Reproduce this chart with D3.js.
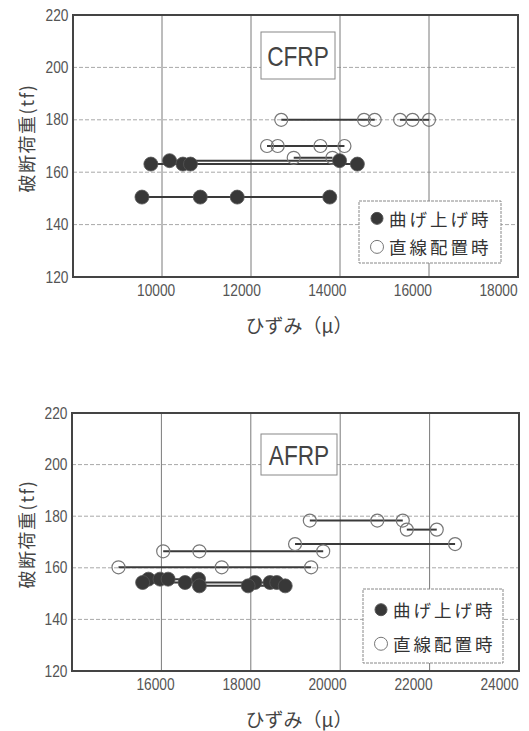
<!DOCTYPE html>
<html>
<head>
<meta charset="utf-8">
<script src="https://cdn.jsdelivr.net/npm/d3@7"></script>
<style>
  html, body { margin: 0; padding: 0; background: #fff; }
  svg { display: block; }
</style>
</head>
<body>
<div id="chart"></div>
<script>
/* =========================
   Data
========================= */
// load in tf, strains in micro-strain; each group is joined by a line
const cfrpBent = [
    { load: 150.5, strains: [9550, 10860, 11690, 13770] },
    { load: 163.1, strains: [9750, 10470, 10640, 14390] },
    { load: 164.4, strains: [10170, 13990] }
];
const cfrpStraight = [
    { load: 180, strains: [12680, 14540, 14780] },
    { load: 180, strains: [15350, 15630, 16000] },
    { load: 170, strains: [12360, 12600, 13560, 14100] },
    { load: 165.5, strains: [12960, 13830] }
];
const afrpBent = [
    { load: 155.6, strains: [15710, 15970, 16150, 16830] },
    { load: 154.3, strains: [15580, 16530, 18090, 18430, 18580] },
    { load: 153.0, strains: [16850, 17940, 18770] }
];
const afrpStraight = [
    { load: 178.3, strains: [19320, 20830, 21400] },
    { load: 174.8, strains: [21490, 22160] },
    { load: 169.2, strains: [18990, 22570] },
    { load: 166.4, strains: [16040, 16850, 19620] },
    { load: 160.2, strains: [15040, 17350, 19350] }
];

const yTicks = [120, 140, 160, 180, 200, 220];
const cfrpXTicks = [10000, 12000, 14000, 16000, 18000];
const afrpXTicks = [16000, 18000, 20000, 22000, 24000];

const legendLabels = ["曲げ上げ時", "直線配置時"];
const xTitle = "ひずみ（μ）";
const yTitle = "破断荷重(tf)";

/* =========================
   Setup
========================= */
const W = 529, H = 731;
const numFont = "'Liberation Sans Narrow', 'Arial Narrow', 'Liberation Sans', sans-serif";
const cjkFont = "'Noto Sans CJK JP', 'Noto Sans', sans-serif";

const svg = d3.select("#chart")
    .append("svg")
    .attr("width", W)
    .attr("height", H);

function drawPanel(opt) {
    const { top, bottom, left, right, xDomain, xTicks, title, titleBox, legendBox, bent, straight } = opt;

    const x = d3.scaleLinear().domain(xDomain).range([left, right]);
    // tick labels sit a little left of the gridlines in the scan
    const xLab = d3.scaleLinear().domain(xDomain).range([left - 3, right - 20]);
    const y = d3.scaleLinear().domain([120, 220]).range([bottom, top]);

    const g = svg.append("g");

    // horizontal grid
    g.append("g")
        .selectAll("line")
        .data(yTicks.filter(d => d > 120 && d < 220))
        .join("line")
        .attr("x1", left).attr("x2", right)
        .attr("y1", d => y(d)).attr("y2", d => y(d))
        .attr("stroke", "#a8a8a8")
        .attr("stroke-width", 1)
        .attr("stroke-dasharray", "4,2");

    // vertical grid
    g.append("g")
        .selectAll("line")
        .data(xTicks.filter(d => d < xDomain[1]))
        .join("line")
        .attr("x1", d => x(d)).attr("x2", d => x(d))
        .attr("y1", top).attr("y2", bottom)
        .attr("stroke", "#7a7a7a")
        .attr("stroke-width", 1);

    // frame
    g.append("rect")
        .attr("x", left).attr("y", top)
        .attr("width", right - left).attr("height", bottom - top)
        .attr("fill", "none")
        .attr("stroke", "#444")
        .attr("stroke-width", 2);

    // y axis labels
    const yAxis = g.append("g")
        .attr("transform", `translate(${left - 2},0)`)
        .call(d3.axisLeft(y).tickValues(yTicks).tickSize(0).tickPadding(3));
    yAxis.select(".domain").remove();
    yAxis.selectAll("text")
        .attr("font-family", numFont)
        .attr("font-size", 16)
        .attr("fill", "#555")
        .attr("transform", "scale(0.86,1)");

    // x axis labels
    const xAxis = g.append("g")
        .attr("transform", `translate(0,${bottom + 4})`)
        .call(d3.axisBottom(xLab).tickValues(xTicks).tickSize(0).tickPadding(4).tickFormat(d3.format("d")));
    xAxis.select(".domain").remove();
    xAxis.selectAll("text")
        .attr("font-family", numFont)
        .attr("font-size", 16)
        .attr("fill", "#555")
        .attr("transform", "scale(0.86,1)");

    // axis titles
    g.append("text")
        .attr("x", 299)
        .attr("y", bottom + 47)
        .attr("text-anchor", "middle")
        .attr("dominant-baseline", "central")
        .attr("font-family", cjkFont)
        .attr("font-size", 19)
        .attr("fill", "#444")
        .text(xTitle);

    g.append("text")
        .attr("transform", `translate(26,${(top + bottom) / 2 - 8}) rotate(-90)`)
        .attr("text-anchor", "middle")
        .attr("dominant-baseline", "central")
        .attr("font-family", cjkFont)
        .attr("font-size", 18)
        .attr("letter-spacing", 1.5)
        .attr("fill", "#444")
        .text(yTitle);

    // material title box
    g.append("rect")
        .attr("x", titleBox[0]).attr("y", titleBox[1])
        .attr("width", titleBox[2]).attr("height", titleBox[3])
        .attr("fill", "#fff")
        .attr("stroke", "#888")
        .attr("stroke-width", 1);
    const tcx = titleBox[0] + titleBox[2] / 2;
    const tcy = titleBox[1] + titleBox[3] / 2 + 1;
    g.append("text")
        .attr("transform", `translate(${tcx},${tcy}) scale(0.84,1)`)
        .attr("text-anchor", "middle")
        .attr("dominant-baseline", "central")
        .attr("font-family", numFont)
        .attr("font-size", 27)
        .attr("fill", "#444")
        .text(title);

    // connecting lines (min -> max strain of each group)
    const lineData = bent.concat(straight);
    g.append("g")
        .selectAll("line")
        .data(lineData)
        .join("line")
        .attr("x1", d => x(d3.min(d.strains)))
        .attr("x2", d => x(d3.max(d.strains)))
        .attr("y1", d => y(d.load))
        .attr("y2", d => y(d.load))
        .attr("stroke", "#3a3a3a")
        .attr("stroke-width", 2);

    // straight layout points (open)
    const openPts = straight.flatMap(d => d.strains.map(s => ({ s, load: d.load })));
    g.append("g")
        .selectAll("circle")
        .data(openPts)
        .join("circle")
        .attr("cx", d => x(d.s))
        .attr("cy", d => y(d.load))
        .attr("r", 6.5)
        .attr("fill", "none")
        .attr("stroke", "#777")
        .attr("stroke-width", 1.2);

    // bent-up points (filled)
    const filledPts = bent.flatMap(d => d.strains.map(s => ({ s, load: d.load })));
    g.append("g")
        .selectAll("circle")
        .data(filledPts)
        .join("circle")
        .attr("cx", d => x(d.s))
        .attr("cy", d => y(d.load))
        .attr("r", 7)
        .attr("fill", "#383838")
        .attr("stroke", "#555")
        .attr("stroke-width", 0.8);

    // legend
    const [lx, ly, lw, lh] = legendBox;
    const leg = g.append("g");
    leg.append("rect")
        .attr("x", lx).attr("y", ly)
        .attr("width", lw).attr("height", lh)
        .attr("fill", "#fff")
        .attr("stroke", "#888")
        .attr("stroke-width", 1)
        .attr("stroke-dasharray", "3,1");
    legendLabels.forEach((lab, i) => {
        const cy = ly + lh * (i === 0 ? 0.28 : 0.74);
        leg.append("circle")
            .attr("cx", lx + 18)
            .attr("cy", cy)
            .attr("r", i === 0 ? 6 : 6.5)
            .attr("fill", i === 0 ? "#383838" : "none")
            .attr("stroke", i === 0 ? "#555" : "#777")
            .attr("stroke-width", 1);
        leg.append("text")
            .attr("x", lx + 30)
            .attr("y", cy)
            .attr("dominant-baseline", "central")
            .attr("font-family", cjkFont)
            .attr("font-size", 17.5)
            .attr("letter-spacing", 3)
            .attr("fill", "#333")
            .text(lab);
    });
}

drawPanel({
    top: 15, bottom: 277, left: 73, right: 518,
    xDomain: [8000, 18000], xTicks: cfrpXTicks,
    title: "CFRP", titleBox: [261, 32, 74, 47],
    legendBox: [359, 201, 142, 62],
    bent: cfrpBent, straight: cfrpStraight
});

drawPanel({
    top: 413, bottom: 671, left: 72, right: 519,
    xDomain: [14000, 24000], xTicks: afrpXTicks,
    title: "AFRP", titleBox: [261, 434, 76, 41],
    legendBox: [363, 589, 140, 74],
    bent: afrpBent, straight: afrpStraight
});
</script>
</body>
</html>
